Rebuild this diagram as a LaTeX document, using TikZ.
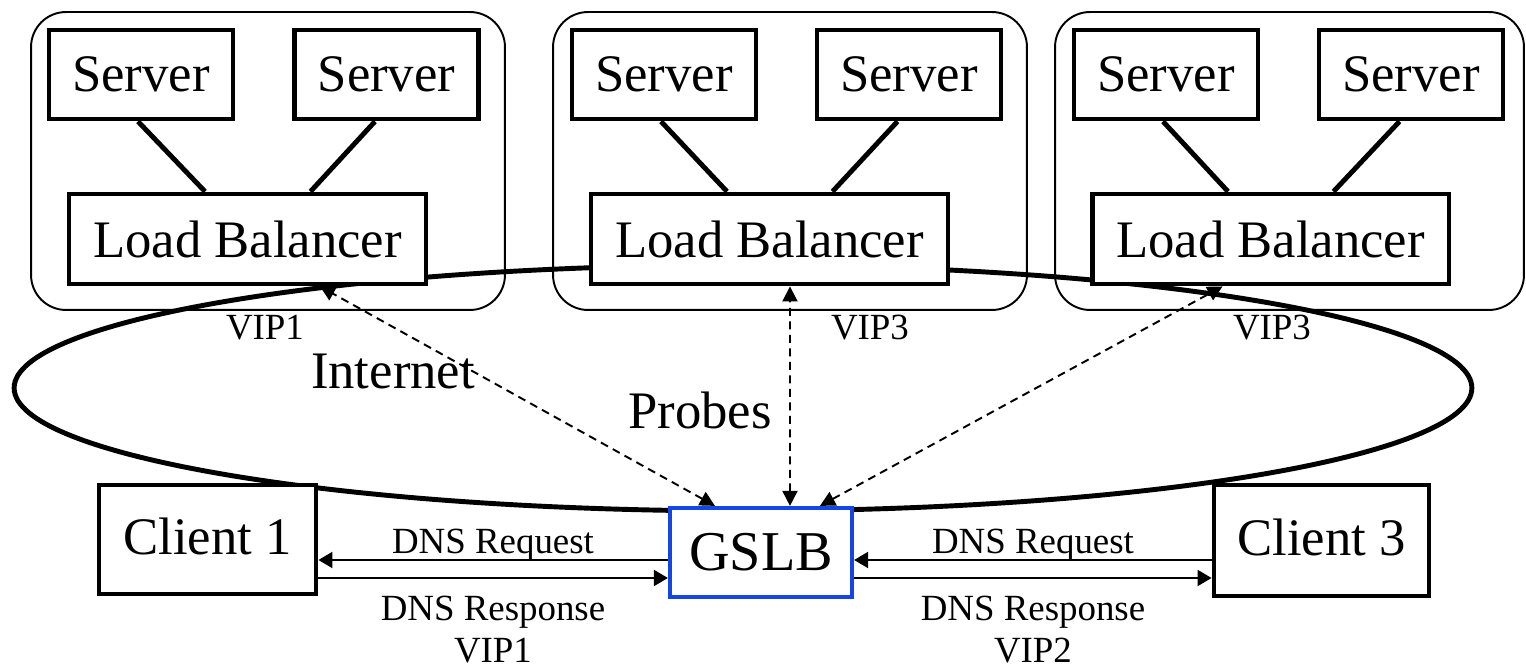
\documentclass[tikz,border=0pt]{standalone}
\usepackage{fontspec}
\setmainfont{Liberation Serif}
\usetikzlibrary{arrows.meta,shapes.geometric}
\definecolor{gslbblue}{RGB}{20,70,230}
\begin{document}
\begin{tikzpicture}[x=0.02cm,y=-0.02cm,
  box/.style={draw, line width=2.8pt, fill=white, inner sep=0pt, font=\fontsize{30}{36}\selectfont},
  server/.style={box, minimum width=3.68cm, minimum height=1.78cm},
  lbbox/.style={box, minimum width=7.14cm, minimum height=1.8cm},
  grp/.style={draw, line width=1.1pt, rounded corners=0.7cm, minimum width=9.48cm, minimum height=5.96cm, inner sep=0pt},
  link/.style={line width=2.8pt},
  dns/.style={line width=1.2pt, -{Triangle[length=0.28cm,width=0.32cm]}},
  probe/.style={line width=1.1pt, dash pattern=on 0.16cm off 0.11cm, {Triangle[length=0.3cm,width=0.3cm]}-{Triangle[length=0.3cm,width=0.3cm]}},
  small/.style={font=\fontsize{21}{23.5}\selectfont, inner sep=0pt},
  big/.style={font=\fontsize{30}{36}\selectfont, inner sep=0pt}]
\useasboundingbox (0,0) rectangle (1526,668);
% internet ellipse
\node[ellipse, draw, line width=2.8pt, minimum width=29.16cm, minimum height=4.92cm, inner sep=0pt] (net) at (743,388) {};
% groups
\node[grp] (g1) at (268,161) {};
\node[grp] (g2) at (790,161) {};
\node[grp, minimum width=9.38cm] (g3) at (1289.5,161) {};
% servers and load balancers
\node[server] (s11) at (141,74.5) {Server};
\node[server] (s12) at (386.5,74.5) {Server};
\node[lbbox] (lb1) at (247.5,239) {Load Balancer};
\node[server] (s21) at (664,74.5) {Server};
\node[server] (s22) at (909,74.5) {Server};
\node[lbbox] (lb2) at (769.5,239) {Load Balancer};
\node[server] (s31) at (1166,74.5) {Server};
\node[server] (s32) at (1411,74.5) {Server};
\node[lbbox] (lb3) at (1270.5,239) {Load Balancer};
\foreach \g in {1,2,3}{
  \draw[link] ([xshift=-0.06cm]s\g1.south) -- ([xshift=-0.85cm]lb\g.north);
  \draw[link] ([xshift=-0.23cm]s\g2.south) -- ([xshift=1.26cm]lb\g.north);
}
% clients and GSLB
\node[box, minimum width=4.34cm, minimum height=2.18cm] (c1) at (207.5,539.5) {\raisebox{0.12cm}{Client 1}};
\node[box, minimum width=4.3cm, minimum height=2.22cm] (c3) at (1321.5,540.5) {\raisebox{0.12cm}{Client 3}};
\node[box, draw=gslbblue, line width=2.4pt, minimum width=3.64cm, minimum height=1.78cm, font=\fontsize{32}{38}\selectfont] (gslb) at (761,552.5) {GSLB};
% DNS arrows
\coordinate (gl1) at ([yshift=-0.15cm]gslb.west);
\coordinate (gl2) at ([yshift=-0.51cm]gslb.west);
\coordinate (gr1) at ([yshift=-0.15cm]gslb.east);
\coordinate (gr2) at ([yshift=-0.51cm]gslb.east);
\draw[dns] (gl1) -- (gl1 -| c1.east);
\draw[dns] (gl2 -| c1.east) -- (gl2);
\draw[dns] (gr1 -| c3.west) -- (gr1);
\draw[dns] (gr2) -- (gr2 -| c3.west);
% probes
\draw[probe] ([xshift=-0.92cm]gslb.north) -- ([xshift=1.45cm]lb1.south);
\draw[probe] ([xshift=0.58cm]gslb.north) -- ([xshift=0.41cm]lb2.south);
\draw[probe] ([xshift=1.18cm]gslb.north) -- ([xshift=-0.96cm]lb3.south);
% labels
\node[small] (vip1) at (265,328) {VIP1};
\node[small] (vip3a) at (870,328) {VIP3};
\node[small] (vip3b) at (1272,328) {VIP3};
\node[big] (inet) at (393,372) {Internet};
\node[big] (prb) at (700,410) {Probes};
\node[small] (req1) at (493,545) {DNS Request};
\node[small, align=center] (resp1) at (493,629.5) {DNS Response\\VIP1};
\node[small] (req3) at (1033,545) {DNS Request};
\node[small, align=center] (resp3) at (1033,629.5) {DNS Response\\VIP2};
\end{tikzpicture}
\end{document}
